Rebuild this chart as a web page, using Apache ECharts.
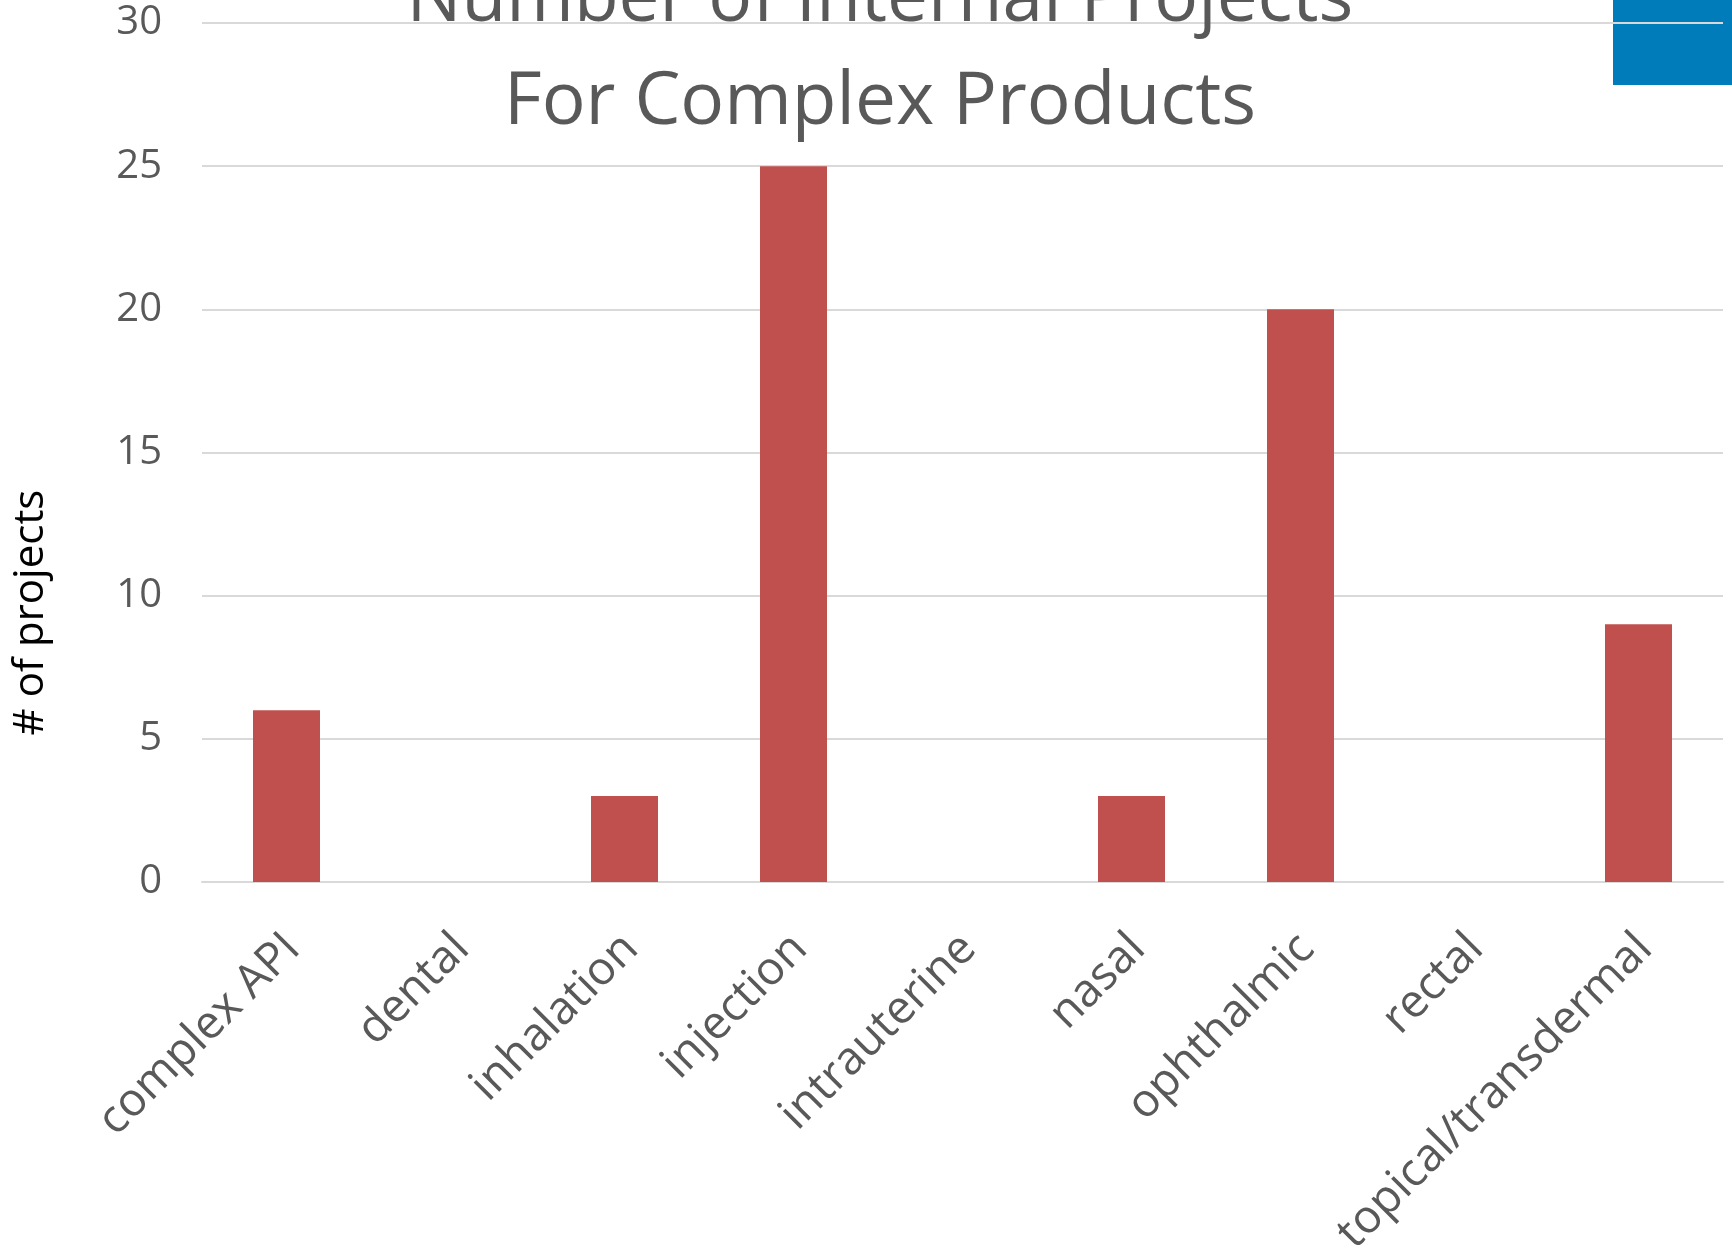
<!DOCTYPE html>
<html>
<head>
<meta charset="utf-8">
<script src="https://cdn.jsdelivr.net/npm/echarts@6/dist/echarts.min.js"></script>
<style>
html,body{margin:0;padding:0;background:#fff;}
#main{width:1732px;height:1255px;}
</style>
</head>
<body>
<div id="main"></div>
<script>
const categories = ['complex API','dental','inhalation','injection','intrauterine','nasal','ophthalmic','rectal','topical/transdermal'];
const projects = [6, 0, 3, 25, 0, 3, 20, 0, 9];
const yTicks = { min: 0, max: 30, interval: 5 };
const titleLines = ['Number of Internal Projects', 'For Complex Products'];
const yAxisName = '# of projects';

const chart = echarts.init(document.getElementById('main'), null, { renderer: 'canvas' });
const FONT = 'Open Sans';
chart.setOption({
  backgroundColor: '#ffffff',
  animation: false,
  title: {
    text: titleLines.join('\n'),
    left: 880, textAlign: 'center',
    top: -51,
    padding: 0,
    textStyle: { fontFamily: FONT, fontSize: 73, fontWeight: 'normal', color: '#595959', lineHeight: 103 }
  },
  graphic: [{
    type: 'rect', z: -10, silent: true,
    shape: { x: 1613, y: 0, width: 119, height: 85 },
    style: { fill: '#007CBA' }
  }],
  grid: { left: 202, right: 9, top: 23, bottom: 373, containLabel: false, outerBoundsMode: 'none' },
  xAxis: {
    type: 'category',
    data: categories,
    axisLine: { show: true, lineStyle: { color: '#d9d9d9', width: 2 } },
    axisTick: { show: false },
    axisLabel: {
      interval: 0, rotate: 45, margin: 32,
      verticalAlign: 'top', lineHeight: 48, padding: [0, 15, 0, 0],
      fontFamily: FONT, fontSize: 46, color: '#595959'
    }
  },
  yAxis: {
    type: 'value',
    min: yTicks.min, max: yTicks.max, interval: yTicks.interval,
    name: yAxisName, nameLocation: 'middle', nameGap: 150, nameRotate: 90,
    nameTextStyle: { fontFamily: FONT, fontSize: 42, color: '#000000', padding: [0, 320, 0, 0] },
    axisLine: { show: false },
    axisTick: { show: false },
    axisLabel: { fontFamily: FONT, fontSize: 40, color: '#595959', margin: 40 },
    splitLine: { show: true, lineStyle: { color: '#d9d9d9', width: 2 } }
  },
  series: [{
    type: 'bar',
    data: projects,
    barWidth: 67,
    itemStyle: { color: '#C0504D' }
  }]
});
</script>
</body>
</html>
